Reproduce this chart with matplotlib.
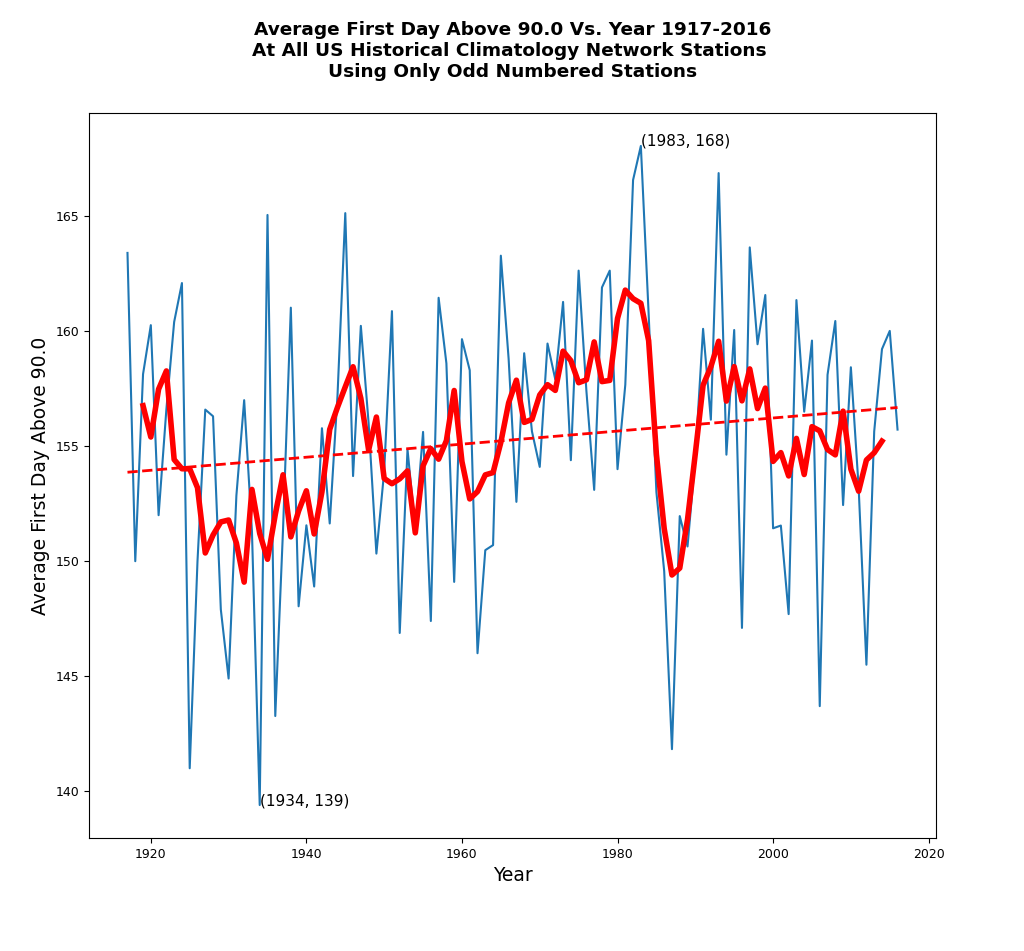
import matplotlib
matplotlib.use('Agg')
import matplotlib.pyplot as plt
import numpy as np
import pandas as pd

# srednia pierwszego dnia powyzej 90F, stacje o nieparzystych numerach
years = list(range(1917, 2017))
first_day = [
    163.4, 150.0, 158.13, 160.26, 152.0, 156.6, 160.4, 162.09, 141.0, 150.0,
    156.59, 156.3, 147.9, 144.9, 152.85, 157.0, 151.3, 139.4, 165.05, 143.27,
    151.4, 161.02, 148.04, 151.56, 148.9, 155.78, 151.64, 157.2, 165.13, 153.7,
    160.23, 156.0, 150.33, 153.9, 160.87, 146.88, 154.86, 151.4, 155.62, 147.4,
    161.45, 158.6, 149.1, 159.65, 158.3, 146.0, 150.48, 150.7, 163.28, 158.8,
    152.58, 159.04, 155.64, 154.1, 159.46, 157.9, 161.27, 154.39, 162.63, 157.4,
    153.1, 161.9, 162.63, 154.0, 157.67, 166.57, 168.05, 160.76, 153.0, 149.57,
    141.83, 151.96, 150.64, 154.5, 160.1, 156.15, 166.87, 154.63, 160.05, 147.1,
    163.64, 159.43, 161.57, 151.43, 151.55, 147.7, 161.35, 156.5, 159.59, 143.7,
    158.1, 160.44, 152.44, 158.43, 153.2, 145.5, 155.64, 159.22, 160.01, 155.72,
]
threshold = 90.0
window = 5

data = pd.Series(first_day, index=years)
smooth = data.rolling(window, center=True).mean()
slope, intercept = np.polyfit(years, first_day, 1)
trend = slope * np.array(years) + intercept

fig = plt.figure(figsize=(10.24, 9.51), dpi=100)
ax = fig.add_axes([0.0869, 0.1188, 0.8272, 0.7624])

ax.plot(years, first_day, linewidth=1.5)
ax.plot(years, smooth.values, color='red', linewidth=4)
ax.plot(years, trend, 'r--', linewidth=2)

# min i max z opisem
ymin_year = data.idxmin()
ymax_year = data.idxmax()
ax.annotate('(%d, %d)' % (ymin_year, int(data[ymin_year])), xy=(ymin_year, data[ymin_year]), fontsize=11)
ax.annotate('(%d, %d)' % (ymax_year, int(data[ymax_year])), xy=(ymax_year, data[ymax_year]), fontsize=11)

ax.set_xlabel('Year', fontsize=13.5)
ax.set_ylabel('Average First Day Above %.1f' % threshold, fontsize=13.5)
ax.tick_params(labelsize=9)
ax.set_title('Average First Day Above %.1f Vs. Year %d-%d\n'
             'At All US Historical Climatology Network Stations \n'
             'Using Only Odd Numbered Stations' % (threshold, years[0], years[-1]),
             fontsize=13.3, fontweight='bold', pad=26)

fig.savefig('out.png', dpi=100)
